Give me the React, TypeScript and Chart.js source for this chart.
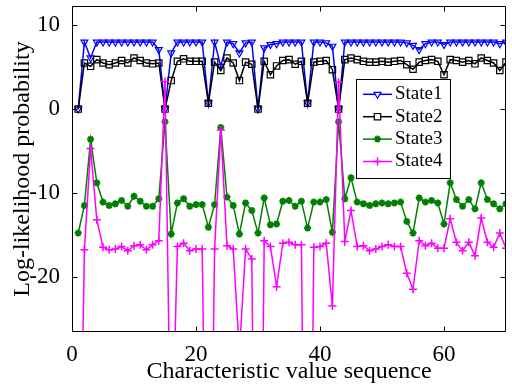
import React, { useEffect, useRef } from 'react';
import { Chart, registerables } from 'chart.js';
import { drawPoint } from 'chart.js/helpers';

Chart.register(...registerables);

const seqIndex: number[] = Array.from({ length: 70 }, (_, i) => i + 1);

const state1: number[] = [
  0, 8.0, 6.1, 8.0, 8.0, 8.0, 8.0, 8.0, 8.0, 8.0,
  8.0, 8.0, 8.0, 7.1, 0, 6.7, 8.0, 8.0, 8.0, 8.0,
  8.0, 0.75, 8.0, 5.1, 8.0, 7.8, 6.7, 7.9, 8.0, 0,
  7.3, 7.7, 7.8, 8.0, 8.0, 8.0, 8.0, 0.75, 8.0, 8.0,
  7.9, 7.5, 0, 8.0, 8.0, 8.0, 8.0, 8.0, 8.0, 8.0,
  8.0, 8.0, 8.0, 7.9, 7.6, 7.1, 7.8, 8.0, 8.0, 7.7,
  8.0, 8.0, 8.0, 8.0, 8.0, 8.0, 8.0, 8.0, 7.8, 8.0,
];

const state2: number[] = [
  0, 5.5, 5.1, 5.9, 5.5, 5.3, 5.5, 5.8, 5.5, 6.1,
  5.8, 5.5, 5.4, 5.5, 0, 3.4, 5.7, 6.0, 5.7, 5.7,
  5.7, 0.7, 5.6, 4.6, 6.1, 5.5, 3.4, 5.6, 5.35, 0,
  5.7, 4.1, 5.15, 5.8, 5.9, 5.35, 5.7, 0.7, 5.6, 5.7,
  5.8, 4.7, 0, 5.9, 6.1, 5.9, 5.7, 5.6, 5.6, 5.7,
  5.6, 5.7, 5.8, 5.3, 4.75, 5.6, 5.8, 5.9, 5.7, 4.1,
  5.9, 5.8, 5.6, 5.8, 5.4, 6.1, 5.8, 5.5, 4.6, 5.6,
];

const state3: number[] = [
  -14.8, -11.5, -3.6, -8.8, -11.1, -11.5, -11.3, -10.9, -11.6, -10.4,
  -11.0, -11.6, -11.6, -10.7, -1.5, -14.9, -11.2, -10.7, -11.6, -11.4,
  -11.4, -14.1, -11.4, -2.2, -10.5, -11.5, -14.9, -11.2, -12.1, -14.8,
  -10.6, -13.8, -13.7, -11.0, -10.9, -11.6, -11.0, -14.2, -11.1, -11.1,
  -10.8, -14.7, -1.5, -10.7, -8.2, -11.1, -11.3, -11.5, -11.3, -11.2,
  -11.3, -11.2, -11.1, -13.4, -14.8, -10.6, -11.1, -10.9, -11.2, -13.7,
  -8.8, -10.8, -11.6, -10.8, -11.9, -8.8, -10.8, -11.3, -11.9, -11.3,
];

const state4: number[] = [
  -60, -16.8, -4.7, -13.2, -16.5, -16.8, -16.7, -16.4, -16.9, -16.3,
  -16.2, -16.8, -16.2, -15.7, 3.3, -45, -16.4, -16.0, -16.9, -16.7,
  -16.7, -70, -16.7, -2.5, -16.3, -16.7, -29, -16.7, -17.9, -88,
  -15.7, -16.4, -21.2, -16.0, -15.9, -16.2, -16.2, -90, -16.5, -16.4,
  -16.0, -23.5, 3.2, -15.8, -12.1, -16.4, -16.3, -16.9, -16.7, -16.4,
  -16.2, -16.4, -16.4, -19.6, -21.5, -15.7, -16.3, -16.0, -16.6, -16.6,
  -13.1, -15.9, -16.9, -15.9, -17.5, -13.0, -15.9, -16.5, -14.8, -16.6,
];

const seriesLabels: string[] = ['State1', 'State2', 'State3', 'State4'];
const xTicks: number[] = [0, 20, 40, 60];
const yTicks: number[] = [-20, -10, 0, 10];

const FONT = "'Liberation Serif', 'Times New Roman', serif";

const styles = [
  { color: '#0000ff', pointStyle: 'triangle', rotation: 180, radius: 4, pbw: 1.2, filled: false },
  { color: '#000000', pointStyle: 'rect', rotation: 0, radius: 4.5, pbw: 1.2, filled: false },
  { color: '#008000', pointStyle: 'star', rotation: 0, radius: 3.5, pbw: 2, filled: true },
  { color: '#ff00ff', pointStyle: 'cross', rotation: 0, radius: 4, pbw: 1.5, filled: false },
];

const framePlugin = {
  id: 'frame',
  afterDatasetsDraw(chart: any) {
    const { ctx, chartArea, scales } = chart;
    const { left, right, top, bottom } = chartArea;
    ctx.save();
    ctx.strokeStyle = '#000';
    ctx.lineWidth = 1;
    const L = Math.round(left) + 0.5;
    const R = Math.round(right) - 0.5;
    const T = Math.round(top) + 0.5;
    const B = Math.round(bottom) - 0.5;
    ctx.beginPath();
    ctx.rect(L, T, R - L, B - T);
    const tl = 5;
    for (const v of xTicks) {
      const px = Math.round(scales.x.getPixelForValue(v)) + 0.5;
      ctx.moveTo(px, B); ctx.lineTo(px, B - tl);
      ctx.moveTo(px, T); ctx.lineTo(px, T + tl);
    }
    for (const v of yTicks) {
      const py = Math.round(scales.y.getPixelForValue(v)) + 0.5;
      ctx.moveTo(L, py); ctx.lineTo(L + tl, py);
      ctx.moveTo(R, py); ctx.lineTo(R - tl, py);
    }
    ctx.stroke();
    ctx.restore();
  },
  afterDraw(chart: any) {
    const { ctx } = chart;
    ctx.save();
    const bx = 356.5, by = 79.5, bw = 94, bh = 99;
    ctx.fillStyle = '#fff';
    ctx.fillRect(bx, by, bw, bh);
    ctx.strokeStyle = '#000';
    ctx.lineWidth = 1;
    ctx.strokeRect(bx, by, bw, bh);
    const rowY = [94.3, 116.7, 139.1, 161.5];
    seriesLabels.forEach((label, i) => {
      const st = styles[i];
      const y = rowY[i];
      ctx.strokeStyle = st.color;
      ctx.lineWidth = 1.5;
      ctx.beginPath();
      ctx.moveTo(363, y);
      ctx.lineTo(392, y);
      ctx.stroke();
      ctx.lineWidth = st.pbw;
      ctx.fillStyle = st.filled ? st.color : '#ffffff';
      drawPoint(ctx, { pointStyle: st.pointStyle, rotation: st.rotation, radius: st.radius, borderWidth: st.pbw } as any, 377.5, y);
      ctx.fillStyle = '#000';
      ctx.font = `19px ${FONT}`;
      ctx.textBaseline = 'middle';
      ctx.textAlign = 'left';
      ctx.fillText(label, 395, y);
    });
    ctx.restore();
  },
};

export default function App() {
  const canvasRef = useRef<HTMLCanvasElement | null>(null);

  useEffect(() => {
    const canvas = canvasRef.current;
    if (!canvas) return;
    const seriesData = [state1, state2, state3, state4];
    const datasets = seriesData.map((arr, i) => {
      const st = styles[i];
      return {
        label: seriesLabels[i],
        data: arr.map((v, k) => ({ x: seqIndex[k], y: v })),
        borderColor: st.color,
        backgroundColor: st.color,
        borderWidth: 1.5,
        pointStyle: st.pointStyle,
        pointRotation: st.rotation,
        pointRadius: st.radius,
        pointBorderWidth: st.pbw,
        pointBorderColor: st.color,
        pointBackgroundColor: st.filled ? st.color : 'rgba(0,0,0,0)',
        tension: 0,
        fill: false,
        order: 4 - i,
      };
    });

    const chart = new Chart(canvas, {
      type: 'line',
      data: { datasets } as any,
      options: {
        responsive: false,
        animation: false,
        maintainAspectRatio: false,
        layout: { padding: { left: 0, right: 3, top: 6, bottom: 0 } },
        plugins: {
          legend: { display: false },
          tooltip: { enabled: false },
        },
        scales: {
          x: {
            type: 'linear',
            min: 0,
            max: 70,
            position: 'bottom',
            afterBuildTicks: (s: any) => {
              s.ticks = xTicks.map((v) => ({ value: v }));
            },
            afterFit: (s: any) => {
              s.height = 55;
              s.paddingLeft = 0;
              s.paddingRight = 0;
              s.paddingTop = 0;
              s.paddingBottom = 0;
            },
            grid: { display: false },
            border: { display: false },
            ticks: {
              color: '#000',
              font: { family: FONT, size: 23 },
              padding: 1,
              maxRotation: 0,
              autoSkip: false,
            },
            title: {
              display: true,
              text: 'Characteristic value sequence',
              color: '#000',
              font: { family: FONT, size: 24 },
              padding: { top: 0, bottom: 1 },
            },
          },
          y: {
            type: 'linear',
            min: -26.6,
            max: 12.3,
            afterBuildTicks: (s: any) => {
              s.ticks = yTicks.map((v) => ({ value: v }));
            },
            afterFit: (s: any) => {
              s.width = 72;
              s.paddingLeft = 0;
              s.paddingRight = 0;
              s.paddingTop = 0;
              s.paddingBottom = 0;
            },
            grid: { display: false },
            border: { display: false },
            ticks: {
              color: '#000',
              font: { family: FONT, size: 23 },
              padding: 4,
              autoSkip: false,
            },
            title: {
              display: true,
              text: 'Log-likelihood probability',
              color: '#000',
              font: { family: FONT, size: 24 },
              padding: { top: 8, bottom: 0 },
            },
          },
        },
      } as any,
      plugins: [framePlugin],
    });
    return () => {
      chart.destroy();
    };
  }, []);

  return (
    <div style={{ position: 'fixed', left: 0, top: 0, width: 512, height: 387, background: '#fff' }}>
      <canvas ref={canvasRef} width={512} height={387} />
    </div>
  );
}
